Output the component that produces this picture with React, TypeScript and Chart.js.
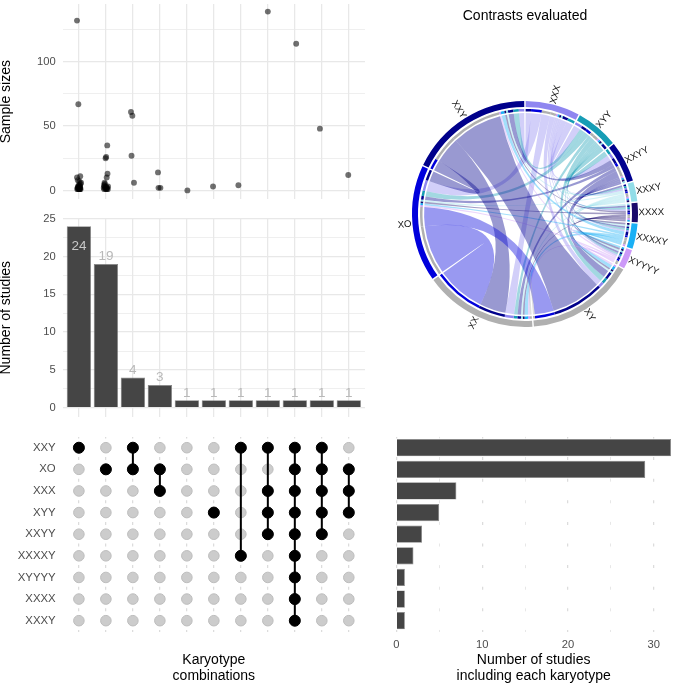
import React, { useEffect, useRef } from "react";
import { Chart, registerables } from "chart.js";

Chart.register(...registerables);
Chart.defaults.font.family = "'Liberation Sans', Arial, sans-serif";

// ---------- data ----------
const rows = ["XXY", "XO", "XXX", "XYY", "XXYY", "XXXXY", "XYYYY", "XXXX", "XXXY"];
const rowTotals = [32, 29, 7, 5, 3, 2, 1, 1, 1];
const combinations = [
  ["XXY"],
  ["XO"],
  ["XXY", "XO"],
  ["XO", "XXX"],
  [],
  ["XYY"],
  ["XXY", "XXXXY"],
  ["XXY", "XXX", "XYY", "XXYY"],
  ["XXY", "XO", "XXX", "XYY", "XXYY", "XXXXY", "XYYYY", "XXXX", "XXXY"],
  ["XXY", "XO", "XXX", "XYY", "XXYY"],
  ["XO", "XXX", "XYY"],
];
const studyCounts = [24, 19, 4, 3, 1, 1, 1, 1, 1, 1, 1];
const sampleX = [
  0.93, 0.98, 0.93, 1.05, 0.96, 1.02, 1.08, 1.06, 1.03, 0.99, 1.04, 0.97, 1.0, 1.05, 0.95, 1.0, 1.03, 0.94, 0.97, 1.02, 1.06, 0.96, 1.01, 1.04,
  2.05, 2.01, 1.99, 2.06, 2.03, 1.95, 1.96, 1.93, 2.01, 1.95, 2.08, 2.02, 1.92, 1.97, 2.05, 2.0, 1.94, 2.07, 2.03,
  2.93, 2.98, 2.95, 3.04,
  3.93, 3.95, 4.02,
  5.02, 5.97, 6.91, 8.0, 9.05, 9.93, 10.98,
];
const sampleY = [
  132, 67, 10, 11, 8, 7, 6, 5, 4, 4, 3, 3, 3, 2, 2, 2, 1, 1, 1, 1, 1, 2, 1, 2,
  35, 26, 25, 13, 10, 6, 5, 4, 3, 3, 3, 2, 2, 2, 2, 1, 1, 1, 1,
  61, 58, 27, 6,
  14, 2, 2,
  0, 3, 4, 139, 114, 48, 12,
];
const sectors = ["XXX", "XYY", "XXYY", "XXXY", "XXXX", "XXXXY", "XYYYY", "XY", "XX", "XO", "XXY"];
const sectorColors = ["#8f86f0", "#169db5", "#00008f", "#92dde8", "#1a0a6b", "#1ab0f5", "#cc99f8", "#b0b0b0", "#b0b0b0", "#0000dc", "#00008b"];
const contrastLinks: [string, string, number][] = [
  ["XXX", "XYY", 4], ["XXX", "XXYY", 3], ["XXX", "XXXY", 1], ["XXX", "XXXX", 1], ["XXX", "XXXXY", 1], ["XXX", "XYYYY", 1], ["XXX", "XXY", 3], ["XXX", "XO", 6], ["XXX", "XY", 3], ["XXX", "XX", 5],
  ["XYY", "XXYY", 3], ["XYY", "XXXY", 1], ["XYY", "XXXX", 1], ["XYY", "XXXXY", 1], ["XYY", "XYYYY", 1], ["XYY", "XXY", 3], ["XYY", "XO", 3], ["XYY", "XY", 3], ["XYY", "XX", 2],
  ["XXYY", "XXXY", 1], ["XXYY", "XXXX", 1], ["XXYY", "XXXXY", 1], ["XXYY", "XYYYY", 1], ["XXYY", "XXY", 3], ["XXYY", "XO", 2], ["XXYY", "XY", 4], ["XXYY", "XX", 2],
  ["XXXY", "XXXX", 1], ["XXXY", "XXXXY", 1], ["XXXY", "XYYYY", 1], ["XXXY", "XXY", 1], ["XXXY", "XO", 1], ["XXXY", "XY", 1], ["XXXY", "XX", 1],
  ["XXXX", "XXXXY", 1], ["XXXX", "XYYYY", 1], ["XXXX", "XXY", 1], ["XXXX", "XO", 1], ["XXXX", "XY", 1], ["XXXX", "XX", 1],
  ["XXXXY", "XYYYY", 1], ["XXXXY", "XXY", 2], ["XXXXY", "XO", 1], ["XXXXY", "XY", 2], ["XXXXY", "XX", 2],
  ["XYYYY", "XXY", 1], ["XYYYY", "XO", 1], ["XYYYY", "XY", 1], ["XYYYY", "XX", 1],
  ["XXY", "XO", 6], ["XXY", "XY", 29], ["XXY", "XX", 15],
  ["XO", "XY", 11], ["XO", "XX", 28],
  ["XY", "XX", 1],
];
const GAP = 0.75;

// ---------- chord layout ----------
const colorOf = (name: string) => sectorColors[sectors.indexOf(name)];
function rgba(hex: string, a: number) {
  const n = parseInt(hex.slice(1), 16);
  return `rgba(${(n >> 16) & 255},${(n >> 8) & 255},${n & 255},${a})`;
}
type Slot = { link: number; weight: number; partner: string } | null;
function buildSlots() {
  const slots: Slot[] = [];
  const totals: number[] = [];
  const n = sectors.length;
  sectors.forEach((s, i) => {
    const mine: { link: number; weight: number; partner: string; key: number }[] = [];
    contrastLinks.forEach(([a, b, w], link) => {
      if (a === s || b === s) {
        const partner = a === s ? b : a;
        mine.push({ link, weight: w, partner, key: (i - sectors.indexOf(partner) + n) % n });
      }
    });
    mine.sort((p, q) => p.key - q.key);
    mine.forEach((m) => slots.push(m));
    slots.push(null);
    totals.push(mine.reduce((t, m) => t + m.weight, 0));
  });
  return { slots, totals };
}
const { slots, totals } = buildSlots();
const CLEAR = "rgba(0,0,0,0)";

// ---------- shared style ----------
const GRID = "#e8e8e8";
const GRID_DASH = "#dcdcdc";
const TICK = "#4d4d4d";
const TICK_FONT = { size: 11.2 };
const TITLE_FONT = { size: 14, lineHeight: 1.12 };
const noPad = (s: any) => {
  s.paddingTop = 0;
  s.paddingBottom = 0;
  s.paddingLeft = 0;
  s.paddingRight = 0;
};
const columnAxis = (extra: any = {}) => ({
  type: "linear",
  min: 0.4,
  max: 11.6,
  offset: false,
  border: { display: false, ...(extra.border || {}) },
  grid: { color: extra.gridColor ?? GRID, lineWidth: 1.25, drawTicks: false, offset: false },
  ticks: { display: false, stepSize: 1, includeBounds: false, autoSkip: false },
  afterFit: (s: any) => { s.height = extra.height ?? 0; noPad(s); },
  title: extra.title,
});
const countAxis = (min: number, max: number, step: number, majorEvery: number, text: string) => ({
  type: "linear",
  min,
  max,
  border: { display: false },
  grid: {
    drawTicks: false,
    color: GRID,
    lineWidth: (c: any) => (c.tick && c.tick.value % majorEvery === 0 ? 1.25 : 0.7),
  },
  ticks: {
    stepSize: step,
    includeBounds: false,
    autoSkip: false,
    color: TICK,
    font: TICK_FONT,
    padding: 7,
    callback: (v: number) => (v % majorEvery === 0 ? String(v) : ""),
  },
  afterFit: (s: any) => { s.width = 64.7; noPad(s); },
  title: { display: true, text, color: "#000", font: { size: 14 }, padding: 0 },
});
const common = {
  responsive: false,
  animation: false as const,
  plugins: { legend: { display: false }, tooltip: { enabled: false } },
};

const barLabels = {
  id: "barLabels",
  afterDatasetsDraw(chart: any) {
    const { ctx, scales } = chart;
    ctx.save();
    ctx.font = "13.5px 'Liberation Sans'";
    ctx.textAlign = "center";
    ctx.textBaseline = "middle";
    const top = Math.max(...studyCounts);
    studyCounts.forEach((v, i) => {
      const x = scales.x.getPixelForValue(i + 1);
      const y = scales.y.getPixelForValue(v);
      ctx.fillStyle = v === top ? "#c8c8c8" : "#b8b8b8";
      ctx.fillText(String(v), x, v === top ? y + 20.5 : y - 7.3);
    });
    ctx.restore();
  },
};

const chordPlugin = {
  id: "chord",
  afterDatasetsDraw(chart: any) {
    const { ctx } = chart;
    const track = chart.getDatasetMeta(2).data;
    const ring = chart.getDatasetMeta(0).data;
    const pairs: Record<number, any[]> = {};
    slots.forEach((s, i) => {
      if (s) (pairs[s.link] = pairs[s.link] || []).push(track[i]);
    });
    const R = 100.9;
    ctx.save();
    contrastLinks.forEach(([a], link) => {
      const [p, q] = pairs[link];
      const cx = p.x;
      const cy = p.y;
      ctx.beginPath();
      ctx.arc(cx, cy, R, p.startAngle, p.endAngle);
      ctx.quadraticCurveTo(cx, cy, cx + R * Math.cos(q.startAngle), cy + R * Math.sin(q.startAngle));
      ctx.arc(cx, cy, R, q.startAngle, q.endAngle);
      ctx.quadraticCurveTo(cx, cy, cx + R * Math.cos(p.startAngle), cy + R * Math.sin(p.startAngle));
      ctx.closePath();
      ctx.fillStyle = rgba(colorOf(a), 0.4);
      ctx.fill();
    });
    ctx.font = "9.6px 'Liberation Sans'";
    ctx.fillStyle = "#111111";
    ctx.textBaseline = "middle";
    sectors.forEach((name, i) => {
      const arc = ring[i * 2];
      const mid = (arc.startAngle + arc.endAngle) / 2;
      const right = Math.cos(mid) >= 0;
      ctx.save();
      ctx.translate(arc.x, arc.y);
      ctx.rotate(right ? mid : mid + Math.PI);
      ctx.textAlign = right ? "left" : "right";
      ctx.fillText(name, right ? 113.5 : -114, 0);
      ctx.restore();
    });
    ctx.restore();
  },
};

// ---------- chart configs ----------
function configs(): any[] {
  const dotData = rows.flatMap((y) => combinations.map((_, i) => ({ x: i + 1, y })));
  const comboSets = combinations
    .map((members, i) => ({
      type: "scatter",
      order: 0,
      showLine: true,
      borderColor: "#000",
      borderWidth: 2,
      backgroundColor: "#000",
      pointBackgroundColor: "#000",
      pointBorderColor: "#000",
      pointBorderWidth: 1,
      pointRadius: 5.5,
      clip: false,
      data: rows.filter((r) => members.includes(r)).map((y) => ({ x: i + 1, y })),
    }));
  const rowAxis = (display: boolean, width: number) => ({
    type: "category",
    labels: rows,
    offset: true,
    border: { display: false },
    grid: { display: false, drawTicks: false },
    ticks: { display, color: TICK, font: { size: 11.4 }, padding: 7, autoSkip: false },
    afterFit: (s: any) => { s.width = width; noPad(s); },
  });
  const dashed = { display: false, dash: [3, 18.62], dashOffset: 1.5 };
  return [
    {
      type: "scatter",
      data: {
        datasets: [{
          data: sampleX.map((x, i) => ({ x, y: sampleY[i] })),
          backgroundColor: "rgba(0,0,0,0.56)",
          borderWidth: 0,
          pointRadius: 2.95,
          clip: false,
        }],
      },
      options: {
        ...common,
        layout: { padding: { top: 1.5, bottom: 5.7, right: 15 } },
        scales: { x: columnAxis(), y: countAxis(-6.9, 144.9, 25, 50, "Sample sizes") },
      },
    },
    {
      type: "bar",
      data: {
        datasets: [{
          data: studyCounts.map((y, i) => ({ x: i + 1, y })),
          backgroundColor: "#454545",
          borderColor: "#858585",
          borderWidth: 0.7,
          categoryPercentage: 1,
          barPercentage: 0.9,
        }],
      },
      options: {
        ...common,
        layout: { padding: { top: 8.7, bottom: 8.3, right: 15 } },
        scales: { x: columnAxis(), y: countAxis(-1.19, 25, 2.5, 5, "Number of studies") },
      },
      plugins: [barLabels],
    },
    {
      type: "scatter",
      data: {
        datasets: [
          {
            order: 1,
            data: dotData,
            pointBackgroundColor: "#cccccc",
            pointBorderColor: "#bdbdbd",
            pointBorderWidth: 1,
            pointRadius: 5.3,
            clip: false,
          },
          ...comboSets,
        ],
      },
      options: {
        ...common,
        layout: { padding: { top: 11.9, right: 15 } },
        scales: {
          x: columnAxis({
            height: 52.5,
            border: dashed,
            gridColor: GRID_DASH,
            title: { display: true, text: ["Karyotype", "combinations"], color: "#000", font: TITLE_FONT, padding: 0.1 },
          }),
          y: rowAxis(true, 64.7),
        },
      },
    },
    {
      type: "bar",
      data: {
        labels: rows,
        datasets: [{
          data: rowTotals,
          backgroundColor: "#454545",
          borderColor: "#858585",
          borderWidth: 0.7,
          categoryPercentage: 1,
          barPercentage: 0.8,
        }],
      },
      options: {
        ...common,
        indexAxis: "y",
        layout: { padding: { top: 11.9, right: 14 } },
        scales: {
          x: {
            type: "linear",
            min: 0,
            max: 32,
            border: dashed,
            grid: {
              color: GRID_DASH,
              drawTicks: false,
              lineWidth: (c: any) => (c.tick && c.tick.value % 10 === 0 ? 1.25 : 0.7),
            },
            ticks: {
              stepSize: 5,
              includeBounds: false,
              autoSkip: false,
              maxRotation: 0,
              color: TICK,
              font: TICK_FONT,
              padding: 7,
              callback: (v: number) => (v % 10 === 0 ? String(v) : ""),
            },
            afterFit: (s: any) => { s.height = 52.5; noPad(s); },
            title: { display: true, text: ["Number of studies", "including each karyotype"], color: "#000", font: TITLE_FONT, padding: 0.1 },
          },
          y: { ...rowAxis(false, 16.3) },
        },
      },
    },
    {
      type: "doughnut",
      data: {
        labels: sectors,
        datasets: [
          {
            data: totals.flatMap((t) => [t, GAP]),
            backgroundColor: sectors.flatMap((s) => [colorOf(s), CLEAR]),
            borderWidth: 0,
            weight: 6,
          },
          {
            data: [1],
            backgroundColor: [CLEAR],
            borderWidth: 0,
            weight: 2,
          },
          {
            data: slots.map((s) => (s ? s.weight : GAP)),
            backgroundColor: slots.map((s) => (s ? colorOf(s.partner) : CLEAR)),
            borderWidth: 0,
            weight: 2.5,
          },
        ],
      },
      options: {
        ...common,
        rotation: 0.35,
        radius: 113,
        cutout: "90.7%",
        plugins: {
          ...common.plugins,
          title: {
            display: true,
            text: "Contrasts evaluated",
            color: "#000",
            font: { size: 14, weight: "normal" },
            padding: { top: 8, bottom: 63 },
          },
        },
      },
      plugins: [chordPlugin],
    },
  ];
}

const boxes = [
  { left: -2, top: 0, width: 382, height: 205 },
  { left: -2, top: 210, width: 382, height: 215 },
  { left: -2, top: 425, width: 382, height: 259 },
  { left: 380, top: 425, width: 305, height: 259 },
  { left: 375, top: 0, width: 300, height: 340 },
];

export default function App() {
  const refs = useRef<(HTMLCanvasElement | null)[]>([]);
  useEffect(() => {
    const cfgs = configs();
    const charts = refs.current.map((c, i) => new Chart(c as HTMLCanvasElement, cfgs[i]));
    return () => charts.forEach((c) => c.destroy());
  }, []);
  return (
    <div style={{ position: "absolute", left: 0, top: 0, width: 685, height: 684, overflow: "hidden", background: "#fff" }}>
      {boxes.map((b, i) => (
        <canvas
          key={i}
          ref={(el) => { refs.current[i] = el; }}
          width={b.width}
          height={b.height}
          style={{ position: "absolute", left: b.left, top: b.top, width: b.width, height: b.height }}
        />
      ))}
    </div>
  );
}
